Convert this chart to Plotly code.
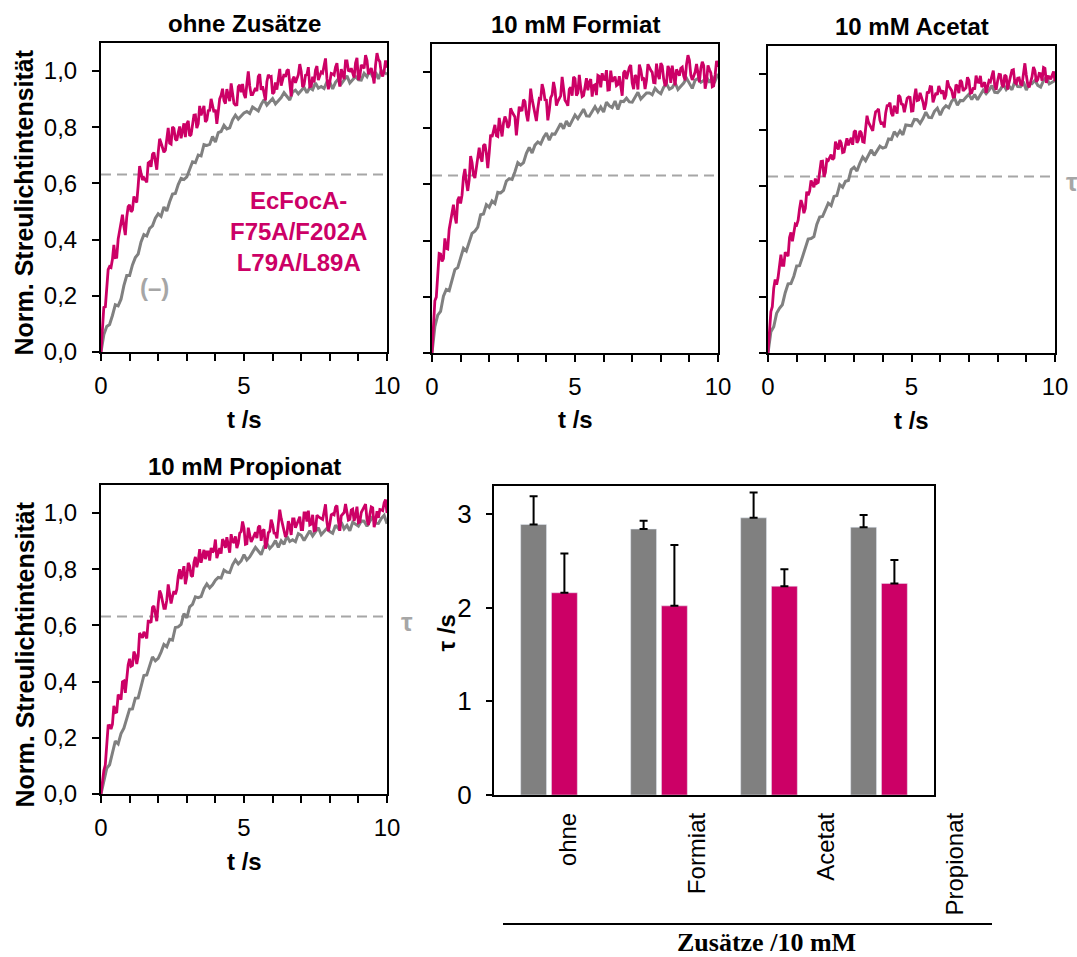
import plotly.graph_objects as go

# ---------------------------------------------------------------- data
# Normalised light-scattering traces from 0 to 10 s.
# "wt" = reference protein (grey), sampled every 0.1 s;
# "mut" = EcFocA-F75A/F202A L79A/L89A (magenta), sampled every 0.1 s plus the
# readings in between ("_half", at 0.05, 0.15, ... s).
panel_titles = ["ohne Zusätze", "10 mM Formiat", "10 mM Acetat", "10 mM Propionat"]

ohne_wt = [0.000, 0.062, 0.091, 0.098, 0.130, 0.168, 0.164, 0.188, 0.236, 0.272, 0.272,
           0.310, 0.336, 0.349, 0.392, 0.418, 0.413, 0.440, 0.449, 0.476, 0.492,
           0.483, 0.516, 0.502, 0.535, 0.562, 0.564, 0.596, 0.618, 0.614, 0.623,
           0.650, 0.677, 0.674, 0.701, 0.698, 0.738, 0.735, 0.739, 0.767, 0.747,
           0.781, 0.785, 0.807, 0.794, 0.798, 0.826, 0.843, 0.829, 0.840, 0.851,
           0.856, 0.849, 0.872, 0.865, 0.858, 0.881, 0.898, 0.879, 0.890, 0.902,
           0.883, 0.894, 0.906, 0.923, 0.910, 0.897, 0.926, 0.932, 0.919, 0.930,
           0.942, 0.923, 0.941, 0.934, 0.958, 0.939, 0.945, 0.938, 0.962, 0.961,
           0.937, 0.960, 0.972, 0.954, 0.971, 0.983, 0.958, 0.970, 0.981, 0.969,
           0.968, 0.992, 0.980, 1.003, 0.979, 0.996, 0.972, 1.002, 0.995, 0.989]
ohne_mut = [0.000, 0.162, 0.218, 0.304, 0.330, 0.336, 0.402, 0.466, 0.448, 0.480, 0.524,
            0.506, 0.538, 0.592, 0.636, 0.620, 0.604, 0.677, 0.704, 0.683, 0.710,
            0.744, 0.711, 0.757, 0.743, 0.801, 0.758, 0.780, 0.761, 0.814, 0.812,
            0.769, 0.810, 0.844, 0.813, 0.842, 0.876, 0.826, 0.860, 0.877, 0.863,
            0.856, 0.914, 0.895, 0.936, 0.893, 0.922, 0.879, 0.944, 0.925, 0.918,
            0.954, 0.947, 0.916, 0.940, 0.981, 0.933, 0.926, 0.962, 0.979, 0.919,
            0.960, 0.972, 0.948, 0.989, 1.001, 0.946, 0.970, 0.958, 0.987, 0.999,
            0.951, 0.987, 0.944, 0.980, 1.004, 0.968, 0.997, 1.021, 0.973, 0.961,
            0.990, 1.014, 0.978, 1.007, 0.971, 1.036, 1.000, 0.988, 1.029, 0.969,
            1.022, 1.010, 1.039, 1.003, 0.986, 1.022, 1.041, 0.993, 1.000, 1.012]
ohne_mut_half = [0.097, 0.158, 0.293, 0.301, 0.381, 0.337, 0.434, 0.489, 0.416, 0.518,
                 0.499, 0.554, 0.533, 0.662, 0.612, 0.612, 0.673, 0.659, 0.710, 0.649,
                 0.759, 0.728, 0.718, 0.798, 0.740, 0.796, 0.753, 0.803, 0.788, 0.765,
                 0.823, 0.774, 0.843, 0.797, 0.876, 0.859, 0.819, 0.859, 0.901, 0.854,
                 0.812, 0.901, 0.937, 0.884, 0.915, 0.956, 0.885, 0.880, 0.951, 0.954,
                 0.904, 0.999, 0.916, 0.928, 0.929, 0.989, 0.946, 0.896, 0.987, 0.981,
                 0.924, 0.934, 1.008, 0.969, 0.979, 1.006, 0.910, 0.980, 0.973, 1.025,
                 0.943, 0.985, 1.014, 0.946, 0.960, 1.018, 0.983, 0.993, 1.045, 0.935,
                 0.992, 0.986, 1.028, 0.945, 0.989, 1.036, 1.002, 1.010, 0.977, 1.047,
                 0.980, 1.016, 1.057, 0.989, 1.011, 0.956, 1.064, 1.033, 0.981, 1.038]

formiat_wt = [0.000, 0.094, 0.135, 0.148, 0.202, 0.226, 0.222, 0.265, 0.297, 0.304, 0.341,
              0.373, 0.363, 0.395, 0.426, 0.434, 0.448, 0.492, 0.495, 0.528, 0.519,
              0.541, 0.532, 0.572, 0.570, 0.579, 0.612, 0.621, 0.618, 0.645, 0.678,
              0.669, 0.678, 0.711, 0.732, 0.712, 0.740, 0.751, 0.744, 0.767, 0.783,
              0.758, 0.780, 0.779, 0.801, 0.817, 0.798, 0.826, 0.807, 0.830, 0.847,
              0.834, 0.851, 0.868, 0.844, 0.843, 0.860, 0.877, 0.859, 0.876, 0.858,
              0.893, 0.880, 0.874, 0.897, 0.867, 0.896, 0.895, 0.907, 0.894, 0.893,
              0.911, 0.928, 0.904, 0.915, 0.926, 0.926, 0.919, 0.942, 0.930, 0.923,
              0.946, 0.958, 0.939, 0.945, 0.962, 0.938, 0.949, 0.961, 0.978, 0.960,
              0.942, 0.971, 0.977, 0.964, 0.970, 0.982, 0.963, 0.981, 0.969, 0.994]
formiat_mut = [0.000, 0.186, 0.284, 0.352, 0.336, 0.372, 0.440, 0.498, 0.486, 0.544, 0.532,
               0.627, 0.610, 0.616, 0.678, 0.623, 0.694, 0.695, 0.738, 0.711, 0.712,
               0.769, 0.812, 0.771, 0.795, 0.819, 0.829, 0.811, 0.858, 0.840, 0.817,
               0.864, 0.902, 0.851, 0.870, 0.903, 0.852, 0.871, 0.904, 0.937, 0.900,
               0.863, 0.919, 0.938, 0.896, 0.915, 0.943, 0.892, 0.939, 0.916, 0.977,
               0.926, 0.945, 0.917, 0.978, 0.964, 0.913, 0.955, 0.988, 0.946, 0.974,
               1.007, 0.937, 0.965, 0.984, 0.956, 0.942, 0.998, 0.975, 1.017, 0.961,
               0.989, 0.938, 1.008, 0.980, 0.971, 1.013, 0.999, 0.962, 0.990, 1.032,
               0.976, 0.962, 1.009, 1.023, 0.953, 0.995, 1.014, 0.986, 1.028, 1.042,
               0.972, 1.000, 0.986, 1.014, 1.023, 0.967, 1.009, 0.948, 0.990, 1.018]
formiat_mut_half = [0.111, 0.199, 0.354, 0.326, 0.408, 0.370, 0.469, 0.528, 0.461, 0.556,
                    0.562, 0.655, 0.577, 0.701, 0.633, 0.659, 0.731, 0.681, 0.743, 0.658,
                    0.777, 0.791, 0.774, 0.837, 0.771, 0.842, 0.802, 0.871, 0.849, 0.775,
                    0.877, 0.865, 0.895, 0.825, 0.941, 0.878, 0.826, 0.906, 0.957, 0.901,
                    0.828, 0.909, 0.965, 0.881, 0.906, 0.983, 0.900, 0.880, 0.946, 0.983,
                    0.916, 0.990, 0.913, 0.948, 0.935, 0.975, 0.952, 0.918, 0.985, 0.996,
                    0.973, 0.936, 1.005, 0.975, 0.952, 0.985, 0.916, 1.005, 0.996, 1.025,
                    0.939, 0.982, 1.027, 0.976, 0.940, 1.028, 1.006, 0.963, 1.030, 0.975,
                    1.022, 0.951, 1.022, 0.962, 0.988, 1.010, 0.987, 1.018, 0.971, 1.060,
                    0.989, 0.986, 1.029, 0.964, 1.037, 0.941, 1.024, 0.997, 0.951, 1.040]

acetat_wt = [0.000, 0.076, 0.094, 0.142, 0.160, 0.173, 0.216, 0.248, 0.249, 0.275, 0.312,
             0.313, 0.344, 0.376, 0.408, 0.410, 0.417, 0.461, 0.487, 0.489, 0.510,
             0.537, 0.528, 0.561, 0.564, 0.603, 0.594, 0.615, 0.618, 0.657, 0.666,
             0.652, 0.680, 0.702, 0.689, 0.711, 0.728, 0.708, 0.725, 0.741, 0.734,
             0.738, 0.767, 0.765, 0.793, 0.779, 0.796, 0.782, 0.817, 0.815, 0.814,
             0.837, 0.836, 0.823, 0.840, 0.863, 0.844, 0.843, 0.866, 0.877, 0.852,
             0.875, 0.886, 0.879, 0.902, 0.913, 0.888, 0.905, 0.904, 0.916, 0.927,
             0.908, 0.926, 0.907, 0.925, 0.942, 0.929, 0.941, 0.958, 0.934, 0.933,
             0.945, 0.962, 0.944, 0.956, 0.943, 0.973, 0.955, 0.954, 0.972, 0.942,
             0.966, 0.965, 0.977, 0.959, 0.953, 0.976, 0.988, 0.964, 0.970, 0.976]
acetat_mut = [0.000, 0.148, 0.232, 0.245, 0.318, 0.314, 0.361, 0.347, 0.432, 0.440, 0.459,
              0.517, 0.531, 0.518, 0.565, 0.618, 0.594, 0.608, 0.661, 0.687, 0.647,
              0.690, 0.711, 0.699, 0.742, 0.763, 0.718, 0.745, 0.744, 0.771, 0.792,
              0.753, 0.796, 0.757, 0.800, 0.827, 0.804, 0.836, 0.868, 0.834, 0.828,
              0.860, 0.887, 0.859, 0.886, 0.858, 0.918, 0.890, 0.884, 0.917, 0.867,
              0.916, 0.905, 0.932, 0.899, 0.893, 0.931, 0.953, 0.914, 0.925, 0.941,
              0.941, 0.924, 0.957, 0.940, 0.918, 0.956, 0.978, 0.939, 0.950, 0.977,
              0.933, 0.944, 0.971, 0.993, 0.960, 0.932, 0.976, 0.992, 0.959, 0.975,
              0.997, 0.953, 0.991, 0.969, 1.013, 0.969, 0.985, 0.963, 1.007, 0.996,
              0.952, 0.990, 1.012, 0.979, 1.001, 1.023, 0.968, 0.990, 0.996, 0.974]
acetat_mut_half = [0.086, 0.166, 0.263, 0.270, 0.352, 0.314, 0.354, 0.414, 0.400, 0.462,
                   0.476, 0.548, 0.501, 0.578, 0.580, 0.606, 0.625, 0.611, 0.686, 0.631,
                   0.693, 0.701, 0.693, 0.757, 0.729, 0.753, 0.720, 0.769, 0.758, 0.746,
                   0.797, 0.763, 0.789, 0.755, 0.850, 0.816, 0.796, 0.864, 0.875, 0.819,
                   0.808, 0.886, 0.897, 0.849, 0.872, 0.924, 0.892, 0.863, 0.913, 0.916,
                   0.868, 0.947, 0.907, 0.916, 0.872, 0.936, 0.954, 0.898, 0.932, 0.957,
                   0.929, 0.909, 0.977, 0.949, 0.917, 0.961, 0.931, 0.971, 0.945, 0.988,
                   0.931, 0.951, 0.994, 0.970, 0.953, 0.970, 0.954, 0.972, 1.012, 0.943,
                   0.998, 0.963, 0.996, 0.944, 0.991, 1.015, 0.965, 0.986, 0.961, 1.038,
                   0.962, 0.971, 1.025, 0.972, 1.002, 0.976, 1.020, 0.991, 0.981, 1.009]

propionat_wt = [0.000, 0.050, 0.091, 0.104, 0.152, 0.188, 0.178, 0.215, 0.234, 0.271, 0.302,
                0.303, 0.341, 0.342, 0.385, 0.422, 0.424, 0.461, 0.488, 0.474, 0.483,
                0.505, 0.532, 0.524, 0.551, 0.548, 0.593, 0.595, 0.604, 0.642, 0.627,
                0.666, 0.675, 0.702, 0.699, 0.703, 0.731, 0.748, 0.734, 0.745, 0.761,
                0.771, 0.769, 0.797, 0.790, 0.788, 0.816, 0.833, 0.819, 0.830, 0.852,
                0.833, 0.844, 0.861, 0.878, 0.865, 0.852, 0.881, 0.892, 0.874, 0.885,
                0.902, 0.878, 0.901, 0.889, 0.918, 0.899, 0.905, 0.898, 0.927, 0.921,
                0.902, 0.920, 0.937, 0.919, 0.936, 0.948, 0.923, 0.935, 0.946, 0.934,
                0.928, 0.957, 0.945, 0.968, 0.944, 0.956, 0.937, 0.967, 0.960, 0.954,
                0.972, 0.971, 0.953, 0.970, 0.988, 0.964, 0.963, 0.981, 0.992, 0.962]
propionat_mut = [0.000, 0.084, 0.182, 0.244, 0.248, 0.290, 0.354, 0.336, 0.402, 0.408, 0.481,
                 0.458, 0.495, 0.491, 0.564, 0.577, 0.554, 0.615, 0.664, 0.643, 0.677,
                 0.711, 0.661, 0.690, 0.712, 0.703, 0.711, 0.774, 0.765, 0.811, 0.773,
                 0.812, 0.774, 0.844, 0.830, 0.823, 0.869, 0.862, 0.831, 0.860, 0.906,
                 0.863, 0.856, 0.897, 0.914, 0.859, 0.900, 0.917, 0.893, 0.934, 0.946,
                 0.891, 0.915, 0.908, 0.932, 0.949, 0.901, 0.942, 0.894, 0.935, 0.959,
                 0.928, 0.952, 0.981, 0.933, 0.926, 0.955, 0.979, 0.948, 0.972, 0.941,
                 1.001, 0.970, 0.958, 0.994, 0.939, 0.987, 0.980, 1.004, 0.968, 0.961,
                 0.997, 1.021, 0.973, 0.990, 1.002, 1.002, 0.978, 1.014, 0.990, 0.966,
                 1.002, 1.026, 0.978, 0.995, 1.019, 0.971, 0.983, 1.012, 1.036, 1.000]
propionat_mut_half = [0.057, 0.103, 0.243, 0.231, 0.314, 0.292, 0.345, 0.399, 0.360, 0.460,
                      0.455, 0.507, 0.463, 0.573, 0.556, 0.566, 0.615, 0.610, 0.669, 0.615,
                      0.724, 0.686, 0.661, 0.746, 0.678, 0.722, 0.728, 0.800, 0.788, 0.747,
                      0.823, 0.778, 0.824, 0.807, 0.872, 0.846, 0.836, 0.862, 0.876, 0.868,
                      0.840, 0.875, 0.907, 0.876, 0.887, 0.925, 0.894, 0.875, 0.929, 0.970,
                      0.889, 0.948, 0.897, 0.920, 0.911, 0.955, 0.937, 0.873, 0.930, 0.977,
                      0.929, 0.910, 1.012, 0.957, 0.915, 0.971, 0.922, 0.979, 0.960, 0.987,
                      0.941, 1.001, 1.009, 0.961, 0.937, 0.993, 0.984, 0.977, 1.031, 0.935,
                      0.994, 0.994, 1.027, 0.937, 0.996, 1.032, 0.975, 1.011, 0.972, 1.023,
                      0.969, 1.014, 1.032, 0.957, 1.022, 0.950, 1.007, 1.013, 1.009, 1.048]

traces_wt = [ohne_wt, formiat_wt, acetat_wt, propionat_wt]
traces_mut = [(ohne_mut, ohne_mut_half), (formiat_mut, formiat_mut_half),
              (acetat_mut, acetat_mut_half), (propionat_mut, propionat_mut_half)]
dt = 0.1                       # sampling interval in s
tau_level = 0.632              # 1 - 1/e

# time constants from the fits (s), with standard deviations
additives = ["ohne", "Formiat", "Acetat", "Propionat"]
tau_wt = [2.89, 2.84, 2.96, 2.86]
tau_wt_sd = [0.30, 0.09, 0.27, 0.13]
tau_mut = [2.16, 2.02, 2.23, 2.26]
tau_mut_sd = [0.42, 0.65, 0.18, 0.25]

x_ticks = list(range(11))
x_ticktext = ["0", "", "", "", "", "5", "", "", "", "", "10"]
y_ticks = [0.0, 0.2, 0.4, 0.6, 0.8, 1.0]
y_ticktext = ["0,0", "0,2", "0,4", "0,6", "0,8", "1,0"]

# ---------------------------------------------------------------- style
W, H = 1077, 957
GRAY = "#808080"
PINK = "#CC0066"
LIGHT = "#A6A6A6"
SANS = "Liberation Sans, Arial, sans-serif"
SERIF = "Liberation Serif, Times New Roman, serif"


def dom_x(a, b):
    return [a / W, b / W]


def dom_y(top, bottom):
    return [1 - bottom / H, 1 - top / H]


def label(text, size=24, color="black", family=SANS, **kw):
    return dict(text=text, showarrow=False, xanchor="center", yanchor="middle",
                font=dict(family=family, size=size, color=color), **kw)


def merge(full, half):
    """Interleave readings at whole and half sampling steps."""
    out = []
    for i, v in enumerate(full):
        out.append(v)
        if i < len(half):
            out.append(half[i])
    return out


# plot-area boxes in pixels: (left, right, top, bottom)
boxes = [(101, 387, 43, 352), (432, 718, 44, 353), (768, 1055, 46, 353), (101, 387, 485, 794)]
bar_box = (494, 934, 486, 795)

fig = go.Figure()
annotations = []
shapes = []

axis_common = dict(showline=True, linecolor="black", linewidth=2, mirror=True,
                   ticks="outside", ticklen=7, tickwidth=2, tickcolor="black",
                   showgrid=False, zeroline=False, automargin=False,
                   tickfont=dict(family=SANS, size=24, color="black"))

for k in range(4):
    n = "" if k == 0 else str(k + 1)
    xa, ya = "x" + n, "y" + n
    wt = traces_wt[k]
    mut = merge(*traces_mut[k])
    fig.add_trace(go.Scatter(x=[i * dt for i in range(len(wt))], y=wt, mode="lines",
                             line=dict(color=GRAY, width=3), xaxis=xa, yaxis=ya,
                             showlegend=False, hoverinfo="skip"))
    fig.add_trace(go.Scatter(x=[i * dt / 2 for i in range(len(mut))], y=mut, mode="lines",
                             line=dict(color=PINK, width=2.8), xaxis=xa, yaxis=ya,
                             showlegend=False, hoverinfo="skip"))
    l, r, t, b = boxes[k]
    fig.layout["xaxis" + n] = dict(axis_common, domain=dom_x(l, r), anchor=ya, range=[0, 10],
                                   tickmode="array", tickvals=x_ticks, ticktext=x_ticktext,
                                   ticklabelstandoff=4)
    fig.layout["yaxis" + n] = dict(axis_common, domain=dom_y(t, b), anchor=xa, range=[0, 1.1],
                                   tickmode="array", tickvals=y_ticks, ticktext=y_ticktext,
                                   showticklabels=(k in (0, 3)), ticklabelstandoff=10)
    shapes.append(dict(type="line", xref=xa, yref=ya, x0=0, x1=10, y0=tau_level, y1=tau_level,
                       line=dict(color=LIGHT, width=2, dash="10px,6px"), layer="below"))
    annotations.append(label("<b>%s</b>" % panel_titles[k], xref=xa + " domain",
                             yref=ya + " domain", x=0.5, y=1, yshift=19))
    annotations.append(label("<b>t /s</b>", xref=xa + " domain", yref=ya + " domain",
                             x=0.5, y=0, yshift=-67))

# y-axis titles of the left column
for k, shift in ((0, -5), (3, -15)):
    n = "" if k == 0 else str(k + 1)
    annotations.append(label("<b>Norm. Streulichtintensität</b>", size=25, textangle=-90,
                             xref="paper", yref="y" + n + " domain", x=24 / W, y=0.5,
                             yshift=shift))

# labels inside / next to the traces
annotations.append(label("<b>EcFocA-<br>F75A/F202A<br>L79A/L89A</b>", color=PINK, align="center",
                         xref="x", yref="y", x=6.9, y=0.43))
annotations.append(label("<b>(–)</b>", color=LIGHT, xref="x", yref="y", x=1.88, y=0.23))
for xa, ya, xpos in (("x3", "y3", 1.06), ("x4", "y4", 1.07)):
    annotations.append(label("<b>τ</b>", size=26, color=LIGHT, xref=xa + " domain", yref=ya,
                             x=xpos, y=tau_level - 0.02))

# ---------------------------------------------------------------- bar chart
fig.add_trace(go.Bar(x=additives, y=tau_wt, marker=dict(color=GRAY), xaxis="x5", yaxis="y5",
                     error_y=dict(type="data", array=tau_wt_sd, arrayminus=[0] * 4,
                                  color="black", thickness=2, width=4),
                     showlegend=False, hoverinfo="skip"))
fig.add_trace(go.Bar(x=additives, y=tau_mut, marker=dict(color=PINK), xaxis="x5", yaxis="y5",
                     error_y=dict(type="data", array=tau_mut_sd, arrayminus=[0] * 4,
                                  color="black", thickness=2, width=4),
                     showlegend=False, hoverinfo="skip"))
# category names sit on their own, wider axis below the bars
fig.add_trace(go.Scatter(x=additives, y=[0] * 4, mode="markers", marker=dict(opacity=0),
                         xaxis="x6", yaxis="y5", showlegend=False, hoverinfo="skip"))

l, r, t, b = bar_box
fig.layout.xaxis5 = dict(domain=dom_x(l, r), anchor="y5", showline=True, linecolor="black",
                         linewidth=2, mirror=True, ticks="", showticklabels=False,
                         showgrid=False, zeroline=False, automargin=False, range=[-0.5, 3.5])
fig.layout.yaxis5 = dict(axis_common, domain=dom_y(t, b), anchor="x5", range=[0, 3.3],
                         tickmode="array", tickvals=[0, 1, 2, 3], ticklen=6,
                         ticklabelstandoff=9,
                         tickfont=dict(family=SANS, size=26, color="black"))
fig.layout.xaxis6 = dict(domain=dom_x(503.5, 1019.5), anchor="y5", range=[-0.5, 3.5],
                         showline=False, ticks="", showgrid=False, zeroline=False,
                         automargin=False, tickangle=-90, ticklabelstandoff=12,
                         tickfont=dict(family=SANS, size=24, color="black"))
annotations.append(label("<b>τ /s</b>", textangle=-90, xref="paper", yref="y5 domain",
                         x=446 / W, y=0.5, yshift=7))

# group bracket line and its caption
shapes.append(dict(type="line", xref="paper", yref="paper", x0=503 / W, x1=992 / W,
                   y0=1 - 924 / H, y1=1 - 924 / H, line=dict(color="black", width=2)))
annotations.append(label("<b>Zusätze /10 mM</b>", size=26, family=SERIF,
                         xref="paper", yref="paper", x=766 / W, y=1 - 942 / H))

fig.update_layout(width=W, height=H, margin=dict(l=0, r=0, t=0, b=0, pad=0),
                  paper_bgcolor="white", plot_bgcolor="rgba(0,0,0,0)",
                  barmode="group", bargap=0.44, bargroupgap=0.16,
                  annotations=annotations, shapes=shapes, showlegend=False)

fig.write_html("out.html")
